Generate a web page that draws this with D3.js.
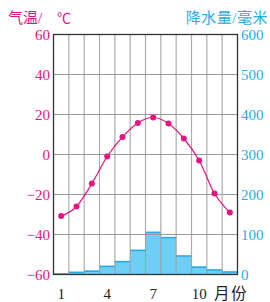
<!DOCTYPE html>
<html>
<head>
<meta charset="utf-8">
<script src="https://cdn.jsdelivr.net/npm/d3@7"></script>
<style>
  body { margin: 0; background: #fff; }
  text { font-family: "Liberation Serif", "Noto Sans CJK SC", serif; }
</style>
</head>
<body>
<div id="chart"></div>
<script>
const months = [1, 2, 3, 4, 5, 6, 7, 8, 9, 10, 11, 12]
const monthLabels = [1, 4, 7, 10]
const temps = [-30.8, -26, -14.5, -1, 8.8, 15.8, 18.5, 15.5, 8, -3, -19.5, -29]
const precip = [3, 7, 10, 22, 34, 62, 107, 94, 48, 20, 13, 8]
const tempTicks = [60, 40, 20, 0, -20, -40, -60]
const precipTicks = [600, 500, 400, 300, 200, 100, 0]

const width = 270, height = 302
const pink = '#e5157f', blue = '#29abe2'
const plotLeft = 53.5, plotRight = 237.5, plotTop = 34.5, plotBottom = 274.5

const svg = d3.select('#chart').append('svg')
  .attr('width', width)
  .attr('height', height)

const x = d3.scaleBand().domain(months).range([plotLeft, plotRight]).padding(0)
const yT = d3.scaleLinear().domain([-60, 60]).range([plotBottom, plotTop])
const yP = d3.scaleLinear().domain([0, 600]).range([plotBottom, plotTop])

// bars
svg.append('g').selectAll('rect')
  .data(precip)
  .enter()
  .append('rect')
  .attr('x', (d, i) => x(months[i]))
  .attr('y', d => yP(d))
  .attr('width', x.bandwidth())
  .attr('height', d => yP(0) - yP(d))
  .attr('fill', '#6dcff6')
svg.append('g').selectAll('line')
  .data(precip)
  .enter()
  .append('line')
  .attr('x1', (d, i) => x(months[i]))
  .attr('x2', (d, i) => x(months[i]) + x.bandwidth())
  .attr('y1', d => yP(d) + 0.75)
  .attr('y2', d => yP(d) + 0.75)
  .attr('stroke', blue)
  .attr('stroke-width', 1.5)

// grid
svg.append('g').selectAll('line')
  .data(tempTicks.slice(1, -1))
  .enter()
  .append('line')
  .attr('x1', plotLeft).attr('x2', plotRight)
  .attr('y1', d => yT(d)).attr('y2', d => yT(d))
  .attr('stroke', '#999').attr('stroke-width', 1.2)
svg.append('g').selectAll('line')
  .data(months.slice(1))
  .enter()
  .append('line')
  .attr('x1', d => x(d)).attr('x2', d => x(d))
  .attr('y1', plotTop).attr('y2', plotBottom)
  .attr('stroke', '#999').attr('stroke-opacity', 0.8).attr('stroke-width', 1.2)

// frame
svg.append('rect')
  .attr('x', plotLeft).attr('y', plotTop)
  .attr('width', plotRight - plotLeft).attr('height', plotBottom - plotTop)
  .attr('fill', 'none').attr('stroke', '#333').attr('stroke-width', 1.3)

// temperature line
const cx = d => x(d) + x.bandwidth() / 2
svg.append('path')
  .datum(temps)
  .attr('d', d3.line().x((d, i) => cx(months[i])).y(d => yT(d)).curve(d3.curveMonotoneX))
  .attr('fill', 'none')
  .attr('stroke', pink)
  .attr('stroke-width', 1.2)
svg.append('g').selectAll('circle')
  .data(temps)
  .enter()
  .append('circle')
  .attr('cx', (d, i) => cx(months[i]))
  .attr('cy', d => yT(d))
  .attr('r', 3)
  .attr('fill', pink)

// axes labels
const fmt = d => d < 0 ? '\u2212' + Math.abs(d) : String(d)
svg.append('g').selectAll('text')
  .data(tempTicks)
  .enter()
  .append('text')
  .attr('x', 50)
  .attr('y', d => yT(d) + 5)
  .attr('text-anchor', 'end')
  .attr('fill', pink)
  .attr('font-size', 15)
  .text(fmt)
svg.append('g').selectAll('text')
  .data(precipTicks)
  .enter()
  .append('text')
  .attr('x', 241)
  .attr('y', d => yP(d) + 5)
  .attr('fill', blue)
  .attr('font-size', 15)
  .text(d => d)
svg.append('g').selectAll('text')
  .data(monthLabels)
  .enter()
  .append('text')
  .attr('x', d => cx(d))
  .attr('y', 299)
  .attr('text-anchor', 'middle')
  .attr('fill', '#222')
  .attr('font-size', 15)
  .text(d => d)
svg.append('text')
  .attr('x', 214).attr('y', 299)
  .attr('fill', '#222').attr('font-size', 15.5)
  .attr('letter-spacing', 1.5)
  .text('月份')

svg.append('text')
  .attr('x', 8).attr('y', 23)
  .attr('fill', pink).attr('font-size', 15)
  .text('气温/')
svg.append('text')
  .attr('x', 57).attr('y', 23)
  .attr('fill', pink).attr('font-size', 14)
  .text('℃')
svg.append('text')
  .attr('x', 268).attr('y', 23)
  .attr('text-anchor', 'end')
  .attr('fill', blue).attr('font-size', 15)
  .attr('letter-spacing', 0.5)
  .text('降水量/毫米')
</script>
</body>
</html>
